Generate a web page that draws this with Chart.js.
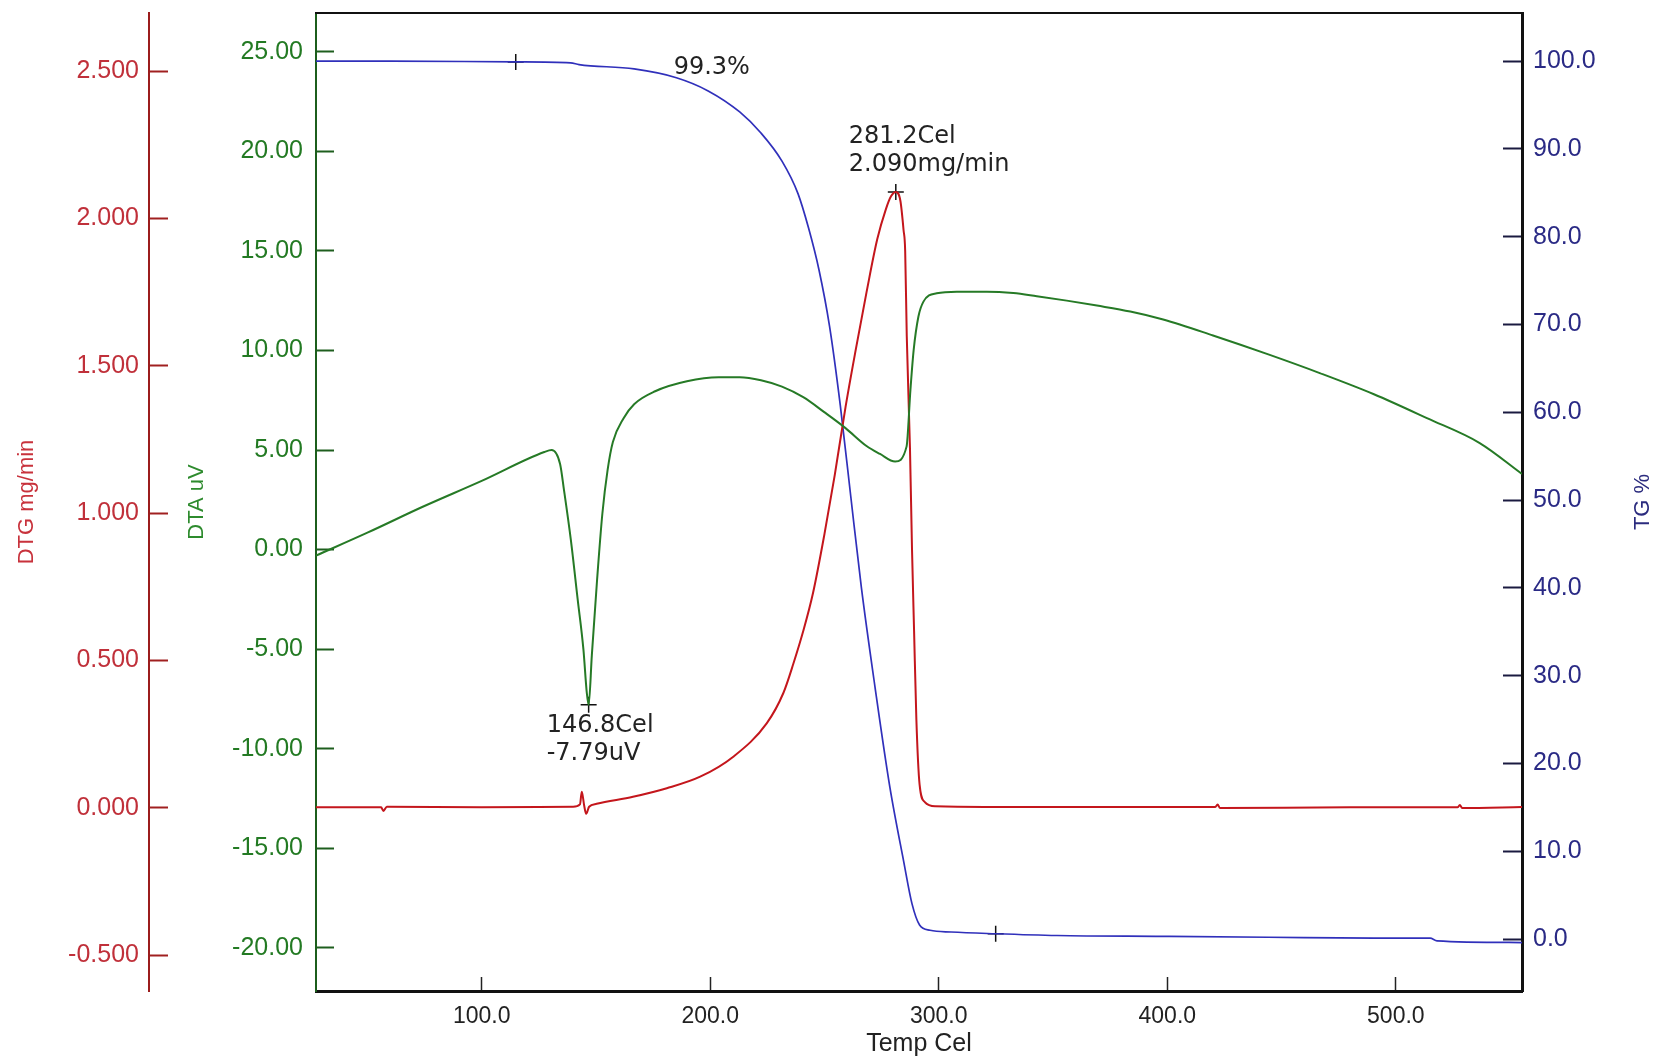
<!DOCTYPE html>
<html lang="en">
<head>
<meta charset="UTF-8">
<title>TG / DTA / DTG</title>
<style>
  html, body { margin: 0; padding: 0; background: #fff; overflow: hidden; }
  canvas { display: block; }
</style>
</head>
<body>
<canvas id="taChart" width="1657" height="1057"></canvas>
<script src="https://cdn.jsdelivr.net/npm/chart.js"></script>
<script>
// tick positions for each axis
const tempTicks = [100, 200, 300, 400, 500];
const dtgTicks = [-0.5, 0, 0.5, 1.0, 1.5, 2.0, 2.5];
const dtaTicks = [-20, -15, -10, -5, 0, 5, 10, 15, 20, 25];
const tgTicks = [0, 10, 20, 30, 40, 50, 60, 70, 80, 90, 100];

// TG curve (%)
const tgTemp = [27.5, 60, 114.9, 138.9, 142.6, 166.7, 185.2, 199.1, 212.9, 222.2,
  231.4, 238.4, 243.0, 247.6, 252.2, 256.9, 261.5, 266.1, 272.1, 278.6,
  284.6, 288.3, 291.6, 296.2, 305.4, 324.9, 351.7, 397.9, 444.2, 490.4,
  515.0, 518.0, 555.2];
const tgPercent = [100.0, 100.0, 99.9, 99.8, 99.6, 99.1, 98.1, 96.6, 94.2, 91.8,
  88.6, 84.9, 81.0, 76.2, 69.8, 60.8, 50.4, 40.1, 28.7, 17.3,
  8.9, 4.0, 1.6, 1.0, 0.8, 0.6, 0.4, 0.3, 0.2, 0.1,
  0.1, -0.2, -0.4];

// DTG curve (mg/min)
const dtgTemp = [27.5, 56.0, 57.0, 58.5, 100, 140, 143.0, 143.8, 144.8, 145.7,
  147.0, 150.3, 166.2, 181.0, 195.6, 210.1, 224.7, 232.0, 236.4, 240.7,
  245.0, 250.0, 254.5, 259.2, 263.8, 268.4, 273.1, 276.8, 279.1, 281.2,
  283.2, 284.6, 285.3, 286.0, 287.4, 288.3, 289.2, 290.2, 291.6, 293.9,
  298.5, 350, 421, 422, 423, 480, 527, 528, 529, 555.2];
const dtgRate = [0.002, 0.002, -0.010, 0.004, 0.002, 0.004, 0.012, 0.055, 0.010, -0.020,
  0.004, 0.014, 0.038, 0.067, 0.106, 0.174, 0.287, 0.390, 0.490, 0.600,
  0.730, 0.930, 1.130, 1.360, 1.560, 1.750, 1.930, 2.030, 2.075, 2.090,
  2.060, 1.960, 1.890, 1.600, 1.220, 0.875, 0.600, 0.300, 0.080, 0.020,
  0.006, 0.003, 0.003, 0.012, 0.000, 0.002, 0.002, 0.010, 0.000, 0.003];

// DTA curve (uV)
const dtaTemp = [27.5, 50, 74.2, 100, 127.4, 130.6, 134.3, 136.0, 139.0, 142.0,
  144.5, 146.0, 146.8, 148.2, 150.5, 152.8, 155.1, 157.4, 162.1, 166.7,
  175.9, 189.8, 203.7, 212.9, 222.2, 231.4, 240.7, 249.9, 259.2, 268.4,
  274.3, 280.9, 285.9, 287.6, 289.0, 291.1, 293.3, 299.1, 307.9, 321.0,
  332.6, 342.9, 356.0, 369.2, 383.8, 398.2, 420.0, 444.2, 467.0, 490.4,
  513.6, 536.7, 555.2];
const dtaSignal = [-0.3, 0.85, 2.15, 3.45, 4.9, 5.0, 4.3, 3.0, 0.5, -2.5,
  -5.0, -7.2, -7.79, -5.3, -1.5, 1.8, 4.0, 5.4, 6.6, 7.3,
  7.95, 8.45, 8.65, 8.65, 8.5, 8.18, 7.65, 6.9, 6.1, 5.2,
  4.8, 4.42, 5.17, 8.02, 10.0, 11.7, 12.45, 12.87, 12.95, 12.95,
  12.88, 12.72, 12.5, 12.25, 11.95, 11.55, 10.75, 9.8, 8.85, 7.8,
  6.6, 5.35, 3.8];

// analysis points
const tgMarkTemp = [114.9, 324.9];
const tgMarkPercent = [99.9, 0.6];
const dtgPeak = [281.2, 2.090];
const dtaPeak = [146.8, -7.79];
const tgStep = [184, 99.2, '99.3%'];

const pts = (xs, ys) => xs.map((x, i) => ({ x: x, y: ys[i] }));
const fixTicks = list => scale => { scale.ticks = list.map(v => ({ value: v })); };
const sans = '"Liberation Sans", Arial, sans-serif';
const tickFont = { family: sans, size: 25 };
const titleFont = { family: sans, size: 22 };
const noteFont = '24px "DejaVu Sans", Verdana, sans-serif';

// fixed box size, no extra room for half label heights
const sideBox = w => s => { s.width = w; s.paddingTop = 0; s.paddingBottom = 0; };

// frame top edge, peak labels and the right-hand title
const annotate = {
  id: 'annotate',
  afterDatasetsDraw(chart) {
    const { ctx, chartArea, scales } = chart;
    const x = scales.x;
    ctx.save();
    ctx.strokeStyle = '#111';
    ctx.lineWidth = 2;
    ctx.beginPath();
    ctx.moveTo(chartArea.left - 1, chartArea.top);
    ctx.lineTo(chartArea.right + 1, chartArea.top);
    ctx.stroke();

    ctx.font = noteFont;
    ctx.fillStyle = '#222';
    ctx.textAlign = 'left';
    ctx.textBaseline = 'middle';

    let px = x.getPixelForValue(dtgPeak[0]);
    let py = scales.yDtg.getPixelForValue(dtgPeak[1]);
    ctx.fillText(dtgPeak[0].toFixed(1) + 'Cel', px - 47, py - 55);
    ctx.fillText(dtgPeak[1].toFixed(3) + 'mg/min', px - 47, py - 27);

    px = x.getPixelForValue(dtaPeak[0]);
    py = scales.yDta.getPixelForValue(dtaPeak[1]);
    ctx.fillText(dtaPeak[0].toFixed(1) + 'Cel', px - 42, py + 21);
    ctx.fillText(dtaPeak[1].toFixed(2) + 'uV', px - 42, py + 49);

    ctx.fillText(tgStep[2], x.getPixelForValue(tgStep[0]), scales.yTg.getPixelForValue(tgStep[1]));

    ctx.translate(1643, (chartArea.top + chartArea.bottom) / 2);
    ctx.rotate(-Math.PI / 2);
    ctx.textAlign = 'center';
    ctx.font = '22px ' + sans;
    ctx.fillStyle = '#2b2b7e';
    ctx.fillText('TG %', 0, 0);
    ctx.restore();
  }
};

const crossMarks = (data, axis) => ({
  data: data,
  yAxisID: axis,
  showLine: false,
  pointStyle: 'cross',
  pointRadius: 8,
  pointBorderWidth: 1.5,
  pointBorderColor: '#111'
});

new Chart(document.getElementById('taChart'), {
  type: 'line',
  data: {
    datasets: [
      { label: 'DTA', data: pts(dtaTemp, dtaSignal), yAxisID: 'yDta', borderColor: '#267a26', borderWidth: 2 },
      { label: 'DTG', data: pts(dtgTemp, dtgRate), yAxisID: 'yDtg', borderColor: '#c4161c', borderWidth: 2 },
      { label: 'TG', data: pts(tgTemp, tgPercent), yAxisID: 'yTg', borderColor: '#3030bb', borderWidth: 1.7 },
      crossMarks(pts(tgMarkTemp, tgMarkPercent), 'yTg'),
      crossMarks([{ x: dtgPeak[0], y: dtgPeak[1] }], 'yDtg'),
      crossMarks([{ x: dtaPeak[0], y: dtaPeak[1] }], 'yDta')
    ]
  },
  options: {
    responsive: false,
    animation: false,
    layout: { padding: { top: 13, left: 0, right: 0, bottom: 0 } },
    elements: {
      point: { radius: 0, hoverRadius: 0 },
      line: { cubicInterpolationMode: 'monotone', fill: false }
    },
    plugins: { legend: { display: false }, tooltip: { enabled: false } },
    scales: {
      x: {
        type: 'linear',
        min: 27.5,
        max: 555.2,
        afterBuildTicks: fixTicks(tempTicks),
        afterFit: s => { s.height = 66; s.paddingLeft = 0; s.paddingRight = 0; },
        ticks: {
          color: '#222',
          font: { family: sans, size: 23 },
          padding: 26,
          maxRotation: 0,
          autoSkip: false,
          callback: v => Number(v).toFixed(1)
        },
        grid: { drawOnChartArea: false, tickLength: -14, tickColor: '#222', tickWidth: 1.5 },
        border: { color: '#111', width: 3 },
        title: {
          display: true, text: 'Temp Cel', color: '#222',
          font: { family: sans, size: 25, lineHeight: 1 }, padding: { top: 0, bottom: 0 }
        }
      },
      yDtg: {
        type: 'linear',
        position: 'left',
        weight: 1,
        min: -0.621,
        max: 2.697,
        afterBuildTicks: fixTicks(dtgTicks),
        afterFit: sideBox(149),
        ticks: { color: '#c0303a', font: tickFont, padding: 29, callback: v => Number(v).toFixed(3) },
        grid: { drawOnChartArea: false, tickLength: -19, tickColor: '#a02020', tickWidth: 2 },
        border: { color: '#9b1c1c', width: 2 },
        title: { display: true, text: 'DTG mg/min', color: '#c8323c', font: titleFont, padding: { top: 14, bottom: 0 } }
      },
      yDta: {
        type: 'linear',
        position: 'left',
        weight: 0,
        min: -22.16,
        max: 26.94,
        afterBuildTicks: fixTicks(dtaTicks),
        afterFit: sideBox(167),
        ticks: { color: '#237a23', font: tickFont, padding: 31, callback: v => Number(v).toFixed(2) },
        grid: { drawOnChartArea: false, tickLength: -18, tickColor: '#1e5e1e', tickWidth: 2 },
        border: { color: '#1c5e1c', width: 2 },
        title: { display: true, text: 'DTA uV', color: '#2e8b2e', font: titleFont, padding: { top: 35, bottom: 0 } }
      },
      yTg: {
        type: 'linear',
        position: 'right',
        min: -5.92,
        max: 105.47,
        afterBuildTicks: fixTicks(tgTicks),
        afterFit: sideBox(135),
        ticks: { color: '#2a2a85', font: tickFont, padding: 30, callback: v => Number(v).toFixed(1) },
        grid: { drawOnChartArea: false, tickLength: -19, tickColor: '#1a1a40', tickWidth: 2 },
        border: { color: '#111', width: 3 }
      }
    }
  },
  plugins: [annotate]
});
</script>
</body>
</html>
